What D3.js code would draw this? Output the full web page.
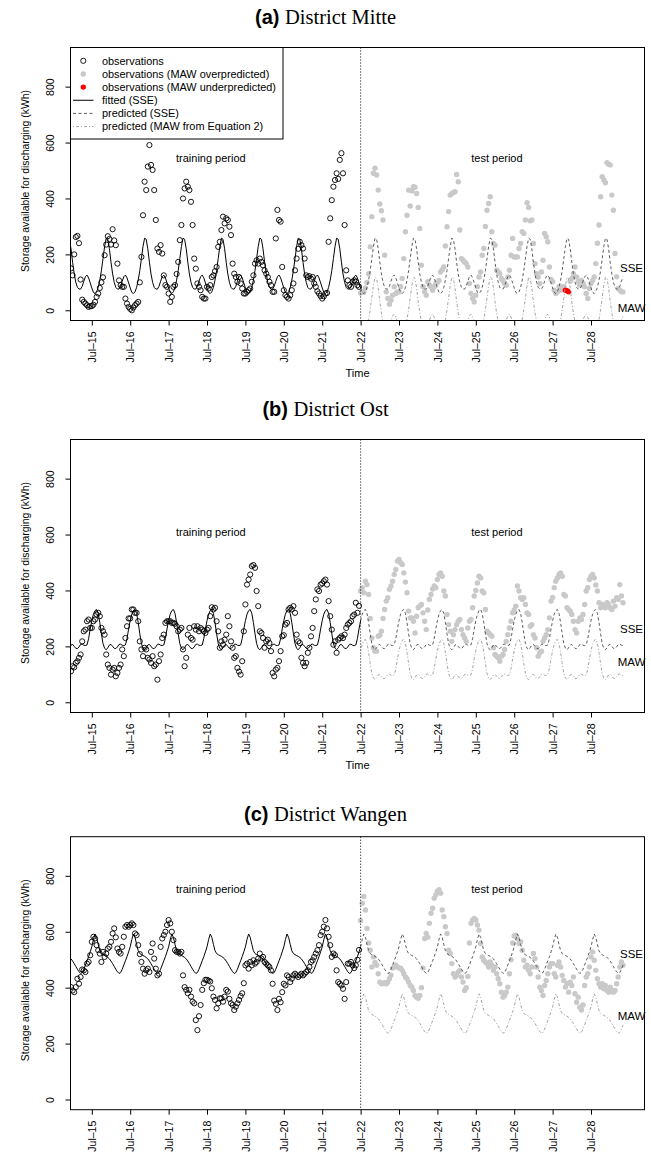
<!DOCTYPE html>
<html><head><meta charset="utf-8">
<script src="https://cdn.jsdelivr.net/npm/d3@7"></script>
<style>
body{margin:0;background:#fff}
text{font-family:"Liberation Sans",Arial,Helvetica,sans-serif}
</style>
</head><body>
<svg id="c" width="651" height="1157" xmlns="http://www.w3.org/2000/svg"></svg>
<script>
// ---------- data ----------
const tickDays = [15,16,17,18,19,20,21,22,23,24,25,26,27,28];
const tickLabels = ["Jul–15","Jul–16","Jul–17","Jul–18","Jul–19","Jul–20","Jul–21","Jul–22","Jul–23","Jul–24","Jul–25","Jul–26","Jul–27","Jul–28"];
const yTicks = [0,200,400,600,800];
const splitDay = 22;            // start of test period (Jul-22)
const trainStartHour = 11;      // hours since Jul-14 00:00
const testStartHour = 192;
const legendLabels = ["observations","observations (MAW overpredicted)","observations (MAW underpredicted)","fitted (SSE)","predicted (SSE)","predicted (MAW from Equation 2)"];

// hourly observations, training period (Jul-14 11h .. Jul-21 23h)
const mitteTrain = [].concat(
 [150,125,200,262,266,240,110,38,30,24,18,12,15],
 [15,20,30,48,60,80,100,118,197,235,265,255,235,290,250,233,167,107,90,84,84,42,24,12],
 [5,0,10,18,24,30,100,191,340,460,430,514,591,520,502,430,323,221,209,233,203,125,90,84],
 [60,30,48,84,90,130,173,251,305,400,436,460,442,430,388,305,185,149,96,84,72,48,42,42],
 [84,78,90,119,125,140,155,227,245,287,335,311,329,323,299,269,167,131,119,102,119,96,78,60],
 [60,66,72,78,102,125,167,179,167,185,173,161,143,131,119,102,90,66,66,257,359,323,317,155],
 [72,54,48,42,54,72,96,143,185,220,245,233,221,185,125,119,122,113,119,96,84,68,60,51],
 [42,50,60,62,245,329,394,442,466,490,470,538,562,490,305,143,107,90,84,102,107,102,90,84]);
// hourly observations, test period (Jul-22 0h .. Jul-28 20h)
const mitteTest = [].concat(
 [62,66,64,80,100,131,227,335,490,508,484,430,380,356,323,197,66,42,22,36,54,84,60,66],
 [66,84,114,185,281,340,430,373,427,442,440,418,368,293,161,84,66,54,102,90,84,72,84,96],
 [100,107,137,145,155,230,299,353,412,418,421,424,486,460,287,185,179,173,167,155,96,60,42,30],
 [54,84,119,137,197,221,300,358,382,406,281,239,233,143,138,131,114,107,96,90,119,143,197,257],
 [191,191,191,221,239,281,275,323,385,368,320,323,239,167,131,119,96,137,179,275,263,245,155,110],
 [102,72,60,66,84,72,84,84,72,70,66,104,114,131,155,119,102,90,107,96,84,60,42,78],
 [96,107,119,167,240,305,406,478,466,456,528,522,520,412,358,203,120,78,72,66,66]);
// daily (hour 0..23) profiles of the fitted / predicted curves
const mitteSSE = [80,64,60,66,82,108,142,185,228,258,254,220,172,130,100,82,76,76,86,104,120,126,116,98];
const mitteMAW = [-60,-76,-80,-74,-58,-32,2,45,88,118,114,80,32,-10,-40,-58,-64,-64,-54,-36,-20,-14,-24,-42];

const ostTrain = [].concat(
 [111,129,125,141,147,159,171,218,254,260,290,296,266],
 [266,290,296,314,320,308,266,254,242,171,135,123,99,117,123,93,105,123,135,189,165,230,272,300],
 [300,332,332,320,320,290,218,189,165,195,189,159,153,141,165,129,135,81,147,171,230,242,284,290],
 [290,290,284,284,281,272,254,260,266,189,129,159,242,266,230,224,272,260,272,254,266,260,254,248],
 [260,266,308,340,332,338,290,254,195,218,206,224,242,308,272,218,195,159,165,123,110,99,147,254],
 [350,421,439,457,487,491,481,398,344,254,248,230,195,218,224,212,183,105,93,117,123,147,183,236],
 [240,278,284,332,338,332,344,320,242,218,212,159,141,129,141,177,195,236,266,326,368,404,398,421],
 [425,433,439,421,362,308,260,206,218,177,224,230,236,230,242,266,278,284,290,308,314,356,320,345]);
const ostTest = [].concat(
 [398,410,392,433,421,386,300,230,195,183,183,236,240,254,300,332,362,374,404,416,433,457,475,505],
 [511,499,493,463,430,392,326,302,302,290,248,308,338,344,350,320,290,260,330,368,386,405,416,410],
 [439,457,463,451,398,380,314,278,254,218,242,260,278,290,296,260,242,230,218,266,290,296,338,380],
 [400,427,451,445,398,392,332,254,248,242,236,195,171,165,159,147,165,171,189,218,242,266,290,320],
 [330,344,416,398,374,368,374,350,320,314,272,278,242,230,195,165,177,183,218,230,242,260,302,362],
 [375,410,433,445,457,463,451,386,380,338,332,326,314,290,260,248,290,302,296,314,350,398,410,439],
 [451,457,445,420,398,356,338,350,344,338,356,350,338,332,362,344,374,368,421,380,356]);
const ostSSE = [292,315,328,332,318,285,245,210,193,188,195,205,207,200,193,192,198,207,208,204,203,205,228,262];
const ostMAW = [185,208,221,225,211,178,138,103,86,81,88,98,100,93,86,85,91,100,101,97,96,98,121,155];

const wangenTrain = [].concat(
 [402,390,384,402,432,414,438,465,462,456,486,492,516],
 [564,582,576,552,534,522,492,528,510,522,540,546,564,594,612,580,540,528,522,546,582,618,624,618],
 [624,630,624,594,588,552,520,492,468,450,462,468,456,528,558,504,468,444,450,546,576,588,600,624],
 [642,630,600,570,534,528,528,522,528,444,402,392,380,392,368,350,344,284,248,298,338,392,416,428],
 [428,425,422,398,368,356,326,344,362,362,350,368,392,386,360,344,338,320,332,344,356,370,380,416],
 [480,486,468,492,480,498,486,492,504,522,504,510,492,486,480,474,462,414,354,342,320,360,348,384],
 [414,408,444,438,420,432,444,450,444,438,444,450,444,450,456,462,474,492,498,510,522,534,552,588],
 [600,618,642,612,582,552,510,522,516,462,420,414,408,396,360,420,486,486,492,480,470,480,500,535]);
const wangenTest = [].concat(
 [640,702,726,678,612,560,534,474,510,490,480,450,420,414,416,418,414,420,432,445,470,474,480,474],
 [470,470,462,450,438,432,420,408,402,390,372,366,362,372,400,470,576,594,580,630,666,684,720,732],
 [745,750,738,678,654,618,594,534,522,486,450,438,444,456,462,438,420,390,400,440,560,630,642,648],
 [642,624,606,558,510,498,492,486,474,492,480,462,474,450,432,414,384,366,372,384,402,450,500,560],
 [585,588,576,558,564,534,498,474,480,462,450,474,522,504,474,438,402,390,372,408,426,450,474,486],
 [486,450,438,480,492,474,444,426,402,414,384,420,408,438,378,348,366,330,320,338,408,438,450,474],
 [510,528,498,462,432,414,402,414,396,408,390,384,402,390,384,390,414,438,474,492,480]);
const wangenSSE = [546,572,592,580,555,532,522,518,515,512,508,503,495,486,476,466,457,451,454,466,481,496,511,528];
const wangenMAW = [332,358,378,366,341,318,308,304,301,298,294,289,281,272,262,252,243,237,240,252,267,282,297,314];

// ---------- layout ----------
const panels = [
 {tag:"(a)", name:"District Mitte", top:47.5, bottom:320.5, titleY:24, train:mitteTrain, test:mitteTest, sse:mitteSSE, maw:mitteMAW,
  trainLabelV:545, sseLabelV:151, mawLabelV:8, time:true, legend:true},
 {tag:"(b)", name:"District Ost", top:439.5, bottom:712.5, titleY:416, train:ostTrain, test:ostTest, sse:ostSSE, maw:ostMAW,
  trainLabelV:608, sseLabelV:261, mawLabelV:143, time:true, legend:false},
 {tag:"(c)", name:"District Wangen", top:836.7, bottom:1109.7, titleY:821, train:wangenTrain, test:wangenTest, sse:wangenSSE, maw:wangenMAW,
  trainLabelV:752, sseLabelV:520, mawLabelV:298, time:false, legend:false}
];

const L = 70.5, R = 644.5;
const x = d3.scaleLinear().domain([14.445, 29.393]).range([L, R]);
const yDomain = [-36.5, 940];
const dayOf = t => 14 + t / 24;
const GRAY = "#c9c9c9", SSECOL = "#4a4a4a", MAWCOL = "#9a9a9a";

const svg = d3.select("#c");
svg.append("rect").attr("width",651).attr("height",1157).attr("fill","#fff");
const defs = svg.append("defs");

panels.forEach((p, i) => {
  const y = d3.scaleLinear().domain(yDomain).range([p.bottom, p.top]);
  const g = svg.append("g");
  defs.append("clipPath").attr("id","clip"+i).append("rect")
     .attr("x",L).attr("y",p.top).attr("width",R-L).attr("height",p.bottom-p.top);
  const plot = g.append("g").attr("clip-path",`url(#clip${i})`);

  const train = p.train.map((v,k)=>({t:trainStartHour+k, v}));
  const test = p.test.map((v,k)=>({t:testStartHour+k, v}));
  const fitT = d3.range(10, testStartHour+1);
  const predT = d3.range(testStartHour, testStartHour + p.test.length);

  // training observations (open circles)
  plot.append("g").selectAll("circle").data(train).join("circle")
    .attr("cx",d=>x(dayOf(d.t))).attr("cy",d=>y(d.v)).attr("r",2.6)
    .attr("fill","none").attr("stroke","#000").attr("stroke-width",0.9);

  // test observations (filled)
  const under = d => d.v < p.maw[d.t % 24];
  plot.append("g").selectAll("circle").data(test).join("circle")
    .attr("cx",d=>x(dayOf(d.t))).attr("cy",d=>y(d.v)).attr("r",2.7)
    .attr("fill",d=>under(d) ? "#ff0000" : GRAY);

  const line = d3.line().x(t=>x(dayOf(t)));
  plot.append("path").attr("d", line.y(t=>y(p.sse[t%24]))(fitT))
    .attr("fill","none").attr("stroke","#000").attr("stroke-width",1);
  plot.append("path").attr("d", line.y(t=>y(p.sse[t%24]))(predT))
    .attr("fill","none").attr("stroke",SSECOL).attr("stroke-width",0.9).attr("stroke-dasharray","3,2.5");
  plot.append("path").attr("d", line.y(t=>y(p.maw[t%24]))(predT))
    .attr("fill","none").attr("stroke",MAWCOL).attr("stroke-width",0.9).attr("stroke-dasharray","1,2,3,2");

  // split line
  g.append("line").attr("x1",x(splitDay)).attr("x2",x(splitDay)).attr("y1",p.top).attr("y2",p.bottom)
    .attr("stroke","#000").attr("stroke-width",1).attr("stroke-dasharray","1,2");

  // texts in plot
  g.append("text").attr("x",x(18.1)).attr("y",y(p.trainLabelV)).attr("dy","0.35em")
    .attr("text-anchor","middle").attr("font-size",11).text("training period");
  g.append("text").attr("x",x(25.55)).attr("y",y(p.trainLabelV)).attr("dy","0.35em")
    .attr("text-anchor","middle").attr("font-size",11).text("test period");
  g.append("text").attr("x",631.5).attr("y",y(p.sseLabelV)).attr("dy","0.35em")
    .attr("text-anchor","middle").attr("font-size",11.5).text("SSE");
  g.append("text").attr("x",631.5).attr("y",y(p.mawLabelV)).attr("dy","0.35em")
    .attr("text-anchor","middle").attr("font-size",11.5).text("MAW");

  // box
  g.append("rect").attr("x",L).attr("y",p.top).attr("width",R-L).attr("height",p.bottom-p.top)
    .attr("fill","none").attr("stroke","#000").attr("stroke-width",1);

  // x axis
  const xa = g.append("g").attr("transform",`translate(0,${p.bottom})`)
    .call(d3.axisBottom(x).tickValues(tickDays).tickFormat((d,k)=>tickLabels[k]).tickSize(5).tickSizeOuter(0));
  xa.select(".domain").remove();
  xa.selectAll("line").attr("stroke","#000");
  xa.selectAll("text").attr("transform","rotate(-90)").attr("x",-11).attr("y",0).attr("dy","0.35em")
    .attr("text-anchor","end").attr("font-size",10.5).attr("font-family","Liberation Sans, Arial, sans-serif").attr("fill","#000");

  // y axis
  const ya = g.append("g").attr("transform",`translate(${L},0)`)
    .call(d3.axisLeft(y).tickValues(yTicks).tickSize(5).tickSizeOuter(0));
  ya.select(".domain").remove();
  ya.selectAll("line").attr("stroke","#000");
  ya.selectAll("text").attr("transform","rotate(-90)").attr("x",0).attr("y",-17).attr("dy",0)
    .attr("text-anchor","middle").attr("font-size",10.5).attr("font-family","Liberation Sans, Arial, sans-serif").attr("fill","#000");

  // y title
  const cy = (p.top + p.bottom) / 2 - 3;
  g.append("text").attr("transform",`translate(29,${cy}) rotate(-90)`).attr("text-anchor","middle")
    .attr("font-size",10.4).text("Storage available for discharging (kWh)");

  if (p.time) {
    g.append("text").attr("x",(L+R)/2).attr("y",p.bottom+56).attr("text-anchor","middle")
      .attr("font-size",11).text("Time");
  }

  // title
  const tt = g.append("text").attr("x",325.5).attr("y",p.titleY).attr("text-anchor","middle");
  tt.append("tspan").attr("font-weight","bold").attr("font-size",20)
    .attr("font-family","Liberation Sans, Arial, sans-serif").text(p.tag + " ");
  tt.append("tspan").attr("font-size",20.5).attr("font-weight","normal")
    .attr("font-family","Liberation Serif, 'Times New Roman', serif").text(p.name);

  // legend
  if (p.legend) {
    const lg = g.append("g");
    lg.append("rect").attr("x",L).attr("y",p.top).attr("width",283-L).attr("height",139-p.top)
      .attr("fill","#fff").attr("stroke","#000").attr("stroke-width",1);
    legendLabels.forEach((lab,k)=>{
      const yy = 60.8 + 13.15*k;
      lg.append("text").attr("x",102).attr("y",yy).attr("dy","0.35em").attr("font-size",10.9).text(lab);
      if (k===0) lg.append("circle").attr("cx",83.3).attr("cy",yy).attr("r",2.6).attr("fill","none").attr("stroke","#000").attr("stroke-width",0.9);
      if (k===1) lg.append("circle").attr("cx",83.3).attr("cy",yy).attr("r",2.7).attr("fill",GRAY);
      if (k===2) lg.append("circle").attr("cx",83.3).attr("cy",yy).attr("r",2.7).attr("fill","#ff0000");
      if (k>=3) {
        const ln = lg.append("line").attr("x1",73).attr("x2",93.5).attr("y1",yy).attr("y2",yy).attr("stroke-width",k===3?1:0.9);
        if (k===3) ln.attr("stroke","#000");
        if (k===4) ln.attr("stroke",SSECOL).attr("stroke-dasharray","3,2.5");
        if (k===5) ln.attr("stroke",MAWCOL).attr("stroke-dasharray","1,2,3,2");
      }
    });
  }
});
</script>
</body></html>
